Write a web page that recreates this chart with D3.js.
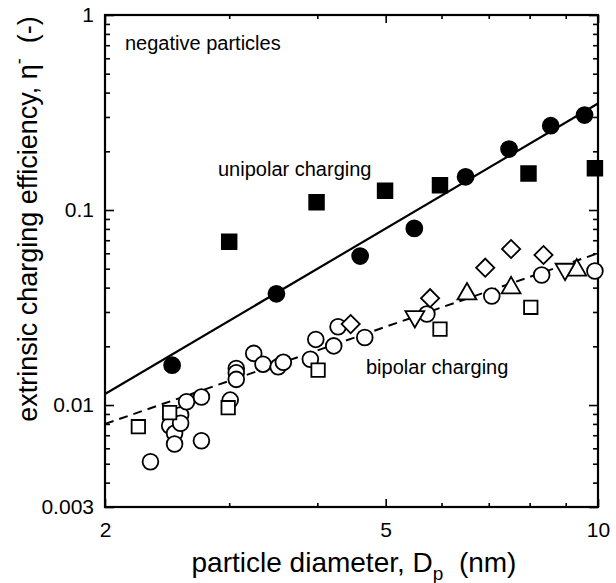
<!DOCTYPE html>
<html>
<head>
<meta charset="utf-8">
<script src="https://cdn.jsdelivr.net/npm/d3@7"></script>
<style>
  body { margin: 0; background: #fff; }
  text { font-family: "Liberation Sans", Arial, sans-serif; fill: #000; }
</style>
</head>
<body>
<div id="wrapper"></div>
<script>
// unipolar charging (filled symbols)
const uniCircleX = [2.49, 3.50, 4.60, 5.49, 6.49, 7.48, 8.57, 9.57];
const uniCircleY = [0.0160, 0.0372, 0.0581, 0.0805, 0.148, 0.2055, 0.2705, 0.307];
const uniSquareX = [3.00, 3.99, 4.99, 5.97, 7.97, 9.90];
const uniSquareY = [0.0687, 0.1095, 0.1256, 0.134, 0.154, 0.1636];

// bipolar charging (open symbols)
const biCircleX = [2.32, 2.47, 2.51, 2.51, 2.56, 2.56, 2.61, 2.74, 2.74, 3.01, 3.07, 3.07, 3.07,
                   3.25, 3.35, 3.52, 3.58, 3.91, 3.98, 4.22, 4.28, 4.67, 5.72, 7.07, 8.32, 9.90];
const biCircleY = [0.00512, 0.00783, 0.00716, 0.00631, 0.00889, 0.00806, 0.0104, 0.0110, 0.00656,
                   0.0106, 0.0154, 0.01465, 0.01354, 0.0184, 0.0162, 0.0157, 0.01656, 0.01716,
                   0.0217, 0.0201, 0.0252, 0.0222, 0.0293, 0.0362, 0.0464, 0.0487];
const biSquareX = [2.23, 2.47, 2.99, 4.01, 5.97, 8.03];
const biSquareY = [0.00774, 0.00914, 0.00969, 0.0151, 0.0245, 0.0317];
const biDiamondX = [4.46, 5.78, 6.92, 7.53, 8.37];
const biDiamondY = [0.0260, 0.0353, 0.0506, 0.0631, 0.0588];
const biTriUpX = [6.52, 7.53, 9.33];
const biTriUpY = [0.0371, 0.0399, 0.0492];
const biTriDownX = [5.50, 8.98];
const biTriDownY = [0.0284, 0.0497];

// fitted lines
const fitX = [2, 10];
const uniFitY = [0.0114, 0.352];
const biFitY = [0.0080, 0.0600];

// ticks
const xMajor = [2, 5, 10];
const xMinor = [3, 4, 6, 7, 8, 9];
const yMajor = [0.003, 0.01, 0.1, 1];
const yMajorLabels = ["0.003", "0.01", "0.1", "1"];
const yMinor = [0.004, 0.005, 0.006, 0.007, 0.008, 0.009,
                0.02, 0.03, 0.04, 0.05, 0.06, 0.07, 0.08, 0.09,
                0.2, 0.3, 0.4, 0.5, 0.6, 0.7, 0.8, 0.9];

const dimensions = {
  width: 616,
  height: 583,
  margin: {top: 15, left: 105, bottom: 76, right: 18}
};
dimensions.boundedWidth = dimensions.width - dimensions.margin.left - dimensions.margin.right;
dimensions.boundedHeight = dimensions.height - dimensions.margin.top - dimensions.margin.bottom;

const wrapper = d3.select("#wrapper").append("svg")
  .attr("width", dimensions.width)
  .attr("height", dimensions.height);
const container = wrapper.append("g")
  .attr("transform", `translate(${dimensions.margin.left}, ${dimensions.margin.top})`);

const xScale = d3.scaleLog().domain([2, 10]).range([0, dimensions.boundedWidth]);
const yScale = d3.scaleLog().domain([0.003, 1]).range([dimensions.boundedHeight, 0]);

// axes, ticks pointing inward on all four sides
function styleAxis(g) {
  g.select(".domain").remove();
  g.selectAll(".tick line").attr("stroke", "#000").attr("stroke-width", 1.6);
  g.selectAll(".tick text").style("font-size", "21px").style("font-family", "Liberation Sans, Arial, sans-serif");
}
const xLabel = d => String(d);

container.append("g")
  .attr("transform", `translate(0, ${dimensions.boundedHeight})`)
  .call(d3.axisBottom(xScale).tickValues(xMajor).tickSize(-8).tickPadding(15).tickFormat(xLabel))
  .call(styleAxis);
container.append("g")
  .attr("transform", `translate(0, ${dimensions.boundedHeight})`)
  .call(d3.axisBottom(xScale).tickValues(xMinor).tickSize(-4).tickFormat(""))
  .call(styleAxis);
container.append("g")
  .call(d3.axisTop(xScale).tickValues(xMajor).tickSize(-8).tickFormat(""))
  .call(styleAxis);
container.append("g")
  .call(d3.axisTop(xScale).tickValues(xMinor).tickSize(-4).tickFormat(""))
  .call(styleAxis);

container.append("g")
  .call(d3.axisLeft(yScale).tickValues(yMajor).tickSize(-9).tickPadding(11)
    .tickFormat((d, i) => yMajorLabels[i]))
  .call(styleAxis);
container.append("g")
  .call(d3.axisLeft(yScale).tickValues(yMinor).tickSize(-5).tickFormat(""))
  .call(styleAxis);
container.append("g")
  .attr("transform", `translate(${dimensions.boundedWidth}, 0)`)
  .call(d3.axisRight(yScale).tickValues(yMajor).tickSize(-9).tickFormat(""))
  .call(styleAxis);
container.append("g")
  .attr("transform", `translate(${dimensions.boundedWidth}, 0)`)
  .call(d3.axisRight(yScale).tickValues(yMinor).tickSize(-5).tickFormat(""))
  .call(styleAxis);

// frame
container.append("rect")
  .attr("width", dimensions.boundedWidth)
  .attr("height", dimensions.boundedHeight)
  .attr("fill", "none")
  .attr("stroke", "#000")
  .attr("stroke-width", 2.2);

// fit lines
const line = d3.line().x(d => xScale(d[0])).y(d => yScale(d[1]));
container.append("path")
  .datum(d3.zip(fitX, uniFitY))
  .attr("d", line)
  .attr("fill", "none")
  .attr("stroke", "#000")
  .attr("stroke-width", 2.2);
container.append("path")
  .datum(d3.zip(fitX, biFitY))
  .attr("d", line)
  .attr("fill", "none")
  .attr("stroke", "#000")
  .attr("stroke-width", 2)
  .attr("stroke-dasharray", "9,6");

// markers
function drawSymbols(xs, ys, type, size, filled, rotate) {
  container.append("g").selectAll("path")
    .data(d3.zip(xs, ys))
    .enter()
    .append("path")
    .attr("d", d3.symbol().type(type).size(size))
    .attr("transform", d => `translate(${xScale(d[0])}, ${yScale(d[1])}) rotate(${rotate || 0})`)
    .attr("fill", filled ? "#000" : "#fff")
    .attr("stroke", "#000")
    .attr("stroke-width", 1.8);
}
drawSymbols(biCircleX, biCircleY, d3.symbolCircle, 195, false);
drawSymbols(biSquareX, biSquareY, d3.symbolSquare, 180, false);
drawSymbols(biDiamondX, biDiamondY, d3.symbolSquare, 165, false, 45);
drawSymbols(biTriUpX, biTriUpY, d3.symbolTriangle, 155, false);
drawSymbols(biTriDownX, biTriDownY, d3.symbolTriangle, 155, false, 180);
drawSymbols(uniCircleX, uniCircleY, d3.symbolCircle, 200, true);
drawSymbols(uniSquareX, uniSquareY, d3.symbolSquare, 215, true);

// annotations
container.append("text").attr("x", 20).attr("y", 35).style("font-size", "20px").text("negative particles");
container.append("text").attr("x", 113).attr("y", 161).style("font-size", "20px").text("unipolar charging");
container.append("text").attr("x", 261).attr("y", 359).style("font-size", "20px").text("bipolar charging");

// axis titles
const xTitle = wrapper.append("text")
  .attr("x", 354)
  .attr("y", 572)
  .attr("text-anchor", "middle")
  .style("font-size", "28px");
xTitle.append("tspan").text("particle diameter, D");
xTitle.append("tspan").attr("dy", 8).style("font-size", "19px").text("p");
xTitle.append("tspan").attr("dy", -8).text("\u00a0 (nm)");

const yTitle = wrapper.append("text")
  .attr("transform", "translate(37, 219) rotate(-90)")
  .attr("text-anchor", "middle")
  .style("font-size", "27px");
yTitle.append("tspan").text("extrinsic charging efficiency, \u03b7");
yTitle.append("tspan").attr("dy", -12).style("font-size", "18px").text("-");
yTitle.append("tspan").attr("dy", 12).text("\u00a0 (-)");
</script>
</body>
</html>
